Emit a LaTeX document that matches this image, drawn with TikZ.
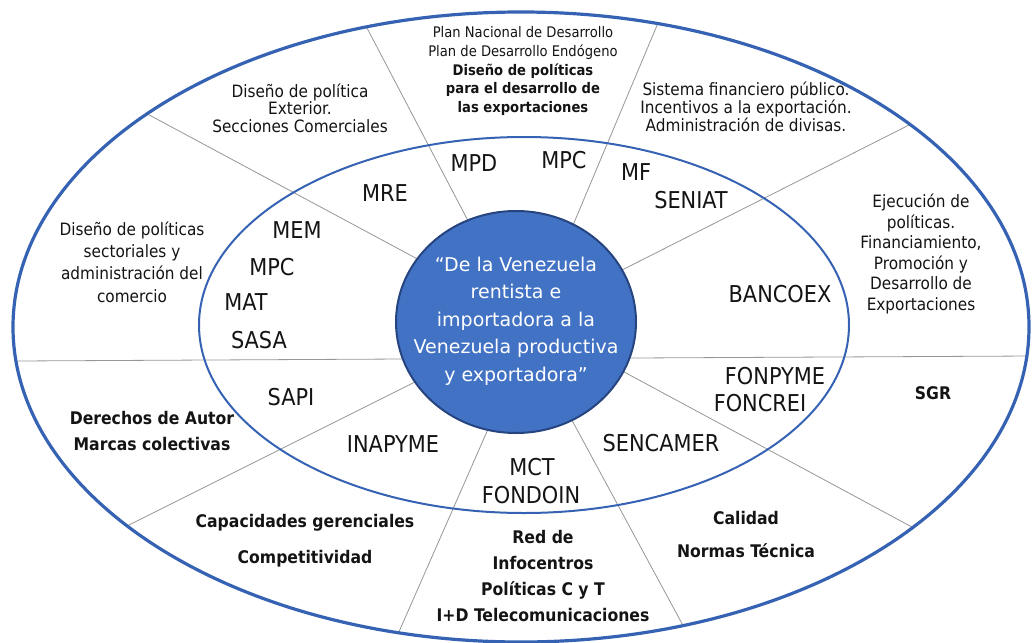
\documentclass[tikz,border=0pt]{standalone}
\usepackage{fontspec}
\setmainfont{DejaVu Sans}
\newfontfamily\narrowsans{DejaVu Sans Condensed}
\usetikzlibrary{positioning,calc}
\definecolor{ringblue}{RGB}{54,98,180}
\definecolor{coreblue}{RGB}{66,114,196}
\definecolor{coreedge}{RGB}{38,68,128}
\definecolor{divgray}{RGB}{150,150,150}
\definecolor{inkgray}{RGB}{20,20,20}
\tikzset{
  agency/.style={text=inkgray, font=\narrowsans\fontsize{11.6}{13}\selectfont},
  role/.style={align=center, text=inkgray, font=\narrowsans\fontsize{8.5}{9}\selectfont},
  rolebold/.style={align=center, text=inkgray, font=\narrowsans\bfseries\fontsize{8.7}{13}\selectfont},
  motto/.style={align=center, text=white, font=\fontsize{9.5}{13.75}\selectfont},
}

\begin{document}
\begin{tikzpicture}[x=0.5pt, y=-0.5pt]
\useasboundingbox (0,0) rectangle (1032,642);

\begin{scope}
\clip (521,327) ellipse (508 and 315);
\foreach \ix/\iy/\ox/\oy in {410/255/153/117, 465/215/367/28, 576/218/658/23,
    626/268/913/123, 633/358/1032/356, 626/373/923/533, 574/424/686/631,
    485/436/398/634, 413/383/127/526, 403/359/17/361}
  \draw[divgray, line width=0.4pt] ($(\ix,\iy)!-0.2!(\ox,\oy)$) -- ($(\ix,\iy)!1.1!(\ox,\oy)$);
\end{scope}

\draw[ringblue, line width=1pt] (524,325) ellipse (325 and 188);
\draw[ringblue, line width=1.6pt] (521,327) ellipse (508 and 315);
\draw[fill=coreblue, draw=coreedge, line width=1pt] (516,322) ellipse (120 and 111);

\node[motto] (core) at (516,321) {“De la Venezuela\\ rentista e\\ importadora a la\\
    Venezuela productiva\\ y exportadora”};

\node[agency] (mpd) at (474,163) {MPD};
\node[agency] (mpctop) at (564,160) {MPC};
\node[agency] (mre) at (385,193) {MRE};
\node[agency] (mf) at (636,172) {MF};
\node[agency] (seniat) at (691,200) {SENIAT};
\node[agency] (mem) at (297,230) {MEM};
\node[agency] (mpcleft) at (272,267) {MPC};
\node[agency] (mat) at (246,302) {MAT};
\node[agency] (sasa) at (259,340) {SASA};
\node[agency] (bancoex) at (780,294) {BANCOEX};
\node[agency] (sapi) at (291,397) {SAPI};
\node[agency] (inapyme) at (393,444) {INAPYME};
\node[agency] (fonpyme) at (775,376) {FONPYME};
\node[agency] (foncrei) at (760,403) {FONCREI};
\node[agency] (sencamer) at (661,443) {SENCAMER};
\node[agency] (mct) at (532,467) {MCT};
\node[agency] (fondoin) at (531,495) {FONDOIN};

\node[role, font=\narrowsans\fontsize{7.3}{9.4}\selectfont] (plan) at (523,71) {Plan Nacional de Desarrollo\\
    Plan de Desarrollo Endógeno\\ \textbf{Diseño de políticas}\\
    \textbf{para el desarrollo de}\\ \textbf{las exportaciones}};
\node[role, font=\narrowsans\fontsize{8.5}{8.75}\selectfont] (exterior) at (300,108) {Diseño de política\\
    Exterior.\\ Secciones Comerciales};
\node[role] (finance) at (746,107) {Sistema financiero público.\\
    Incentivos a la exportación.\\ Administración de divisas.};
\node[role, font=\narrowsans\fontsize{8.5}{10.3}\selectfont] (execution) at (921,254) {Ejecución de\\
    políticas.\\ Financiamiento,\\ Promoción y\\ Desarrollo de\\ Exportaciones};
\node[role, font=\narrowsans\fontsize{8.5}{11.2}\selectfont] (sectoral) at (132,262) {Diseño de políticas\\
    sectoriales y\\ administración del\\ comercio};
\node[rolebold] (authors) at (152,431) {Derechos de Autor\\ Marcas colectivas};
\node[rolebold, font=\narrowsans\bfseries\fontsize{8.7}{18}\selectfont] (management) at (305,541)
    {Capacidades gerenciales\\ Competitividad};
\node[rolebold] (infocentros) at (543,576) {Red de\\ Infocentros\\ Políticas C y T\\
    I+D Telecomunicaciones};
\node[rolebold, font=\narrowsans\bfseries\fontsize{8.7}{16.5}\selectfont] (quality) at (746,535)
    {Calidad\\ Normas Técnica};
\node[rolebold] (sgr) at (933,393) {SGR};
\end{tikzpicture}
\end{document}
